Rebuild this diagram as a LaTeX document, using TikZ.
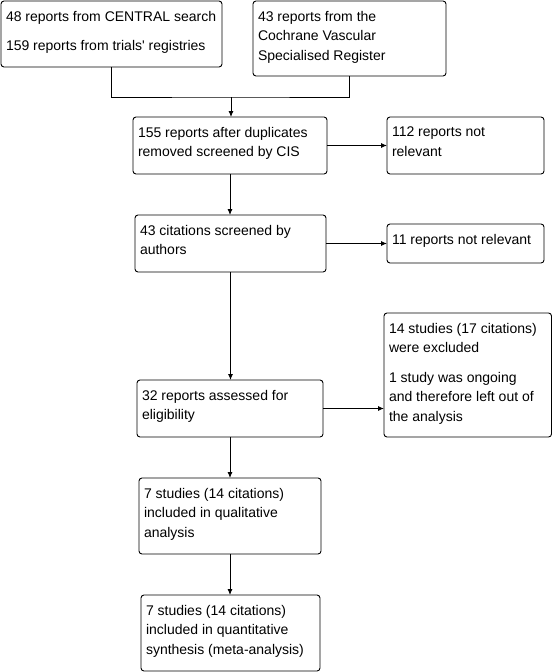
\documentclass[tikz,border=0pt]{standalone}
\usepackage{fontspec}
\setmainfont{Liberation Sans}
\usetikzlibrary{arrows.meta}
\tikzset{
  bx/.style={draw, line width=0.9pt, rounded corners=3pt, inner sep=0pt, outer sep=0pt},
  tx/.style={anchor=north west, inner sep=0pt, outer sep=0pt, align=left, font=\fontsize{14}{19.5}\selectfont},
  arr/.style={-{Latex[length=6pt,width=5pt]}, line width=0.9pt},
  ln/.style={line width=0.9pt}
}
\newcommand\flowbox[6]{%
  \node[bx, minimum width={(#4-#2)*1pt}, minimum height={(#5-#3)*1pt}] (#1) at ({(#2+#4)/2},{(#3+#5)/2}) {};
  \node[tx] (#1t) at ([xshift=5pt,yshift=-10pt]#1.north west) {#6};
}
\begin{document}
\begin{tikzpicture}[x=1pt,y=-1pt]
\fill[white] (0,0) rectangle (552,672);
\useasboundingbox (0,0) rectangle (552,672);

\flowbox{A}{1}{1}{222}{67}{48 reports from CENTRAL search\\[10pt]159 reports from trials\textquotesingle{} registries}
\flowbox{B}{253}{1}{446}{76}{43 reports from the\\Cochrane Vascular\\Specialised Register}
\flowbox{C}{133}{117}{327}{174}{155 reports after duplicates\\removed screened by CIS}
\flowbox{D}{387}{117}{544}{174}{112 reports not\\relevant}
\flowbox{E}{135}{215}{326}{272}{43 citations screened by\\authors}
\flowbox{F}{387}{224}{544}{263}{11 reports not relevant}
\flowbox{G}{137}{380}{323}{437}{32 reports assessed for\\eligibility}
\flowbox{H}{384}{313}{551.5}{437}{14 studies (17 citations)\\were excluded\\[10pt]1 study was ongoing\\and therefore left out of\\the analysis}
\flowbox{I}{139}{478}{321}{554}{7 studies (14 citations)\\included in qualitative\\analysis}
\flowbox{J}{141}{595}{320}{671}{7 studies (14 citations)\\included in quantitative\\synthesis (meta-analysis)}

\coordinate (j) at (231,97);
\draw[ln] (A.south) |- (j) -| (B.south);
\draw[arr] (j) -- (j |- C.north);
\draw[arr] (C.east) -- (D.west);
\draw[arr] (C.south) -- (C.south |- E.north);
\draw[arr] (E.east) -- (E.east -| F.west);
\draw[arr] (E.south) -- (E.south |- G.north);
\draw[arr] (G.east) -- (G.east -| H.west);
\draw[arr] (G.south) -- (G.south |- I.north);
\draw[arr] (I.south) -- (I.south |- J.north);
\end{tikzpicture}
\end{document}
